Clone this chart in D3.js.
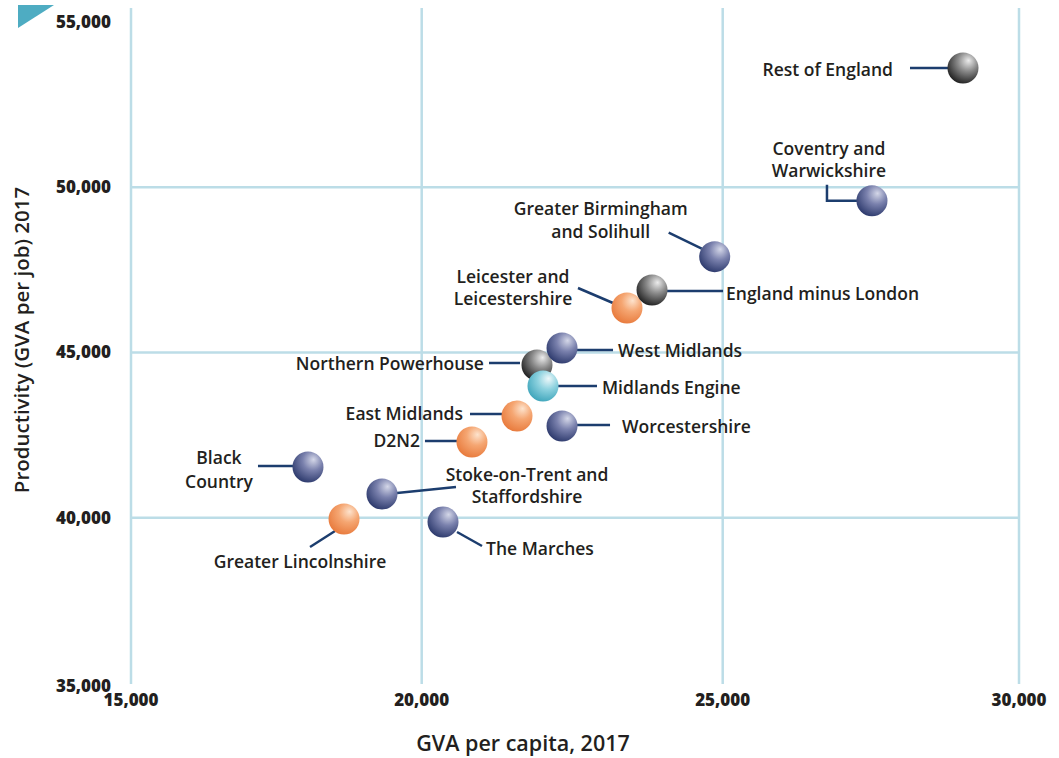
<!DOCTYPE html>
<html>
<head>
<meta charset="utf-8">
<script src="https://cdn.jsdelivr.net/npm/d3@7"></script>
<style>
  body { margin: 0; background: #fff; }
  text { font-family: "Open Sans", Lato, sans-serif; fill: #231f20; }
</style>
</head>
<body>
<script>
// LEP areas, GVA per capita vs GVA per job, 2017
const regions = [
    "Leicester and Leicestershire", "England minus London", "Northern Powerhouse",
    "West Midlands", "Midlands Engine", "Rest of England", "Coventry and Warwickshire",
    "Greater Birmingham and Solihull", "East Midlands", "Worcestershire", "D2N2",
    "Black Country", "Stoke-on-Trent and Staffordshire", "Greater Lincolnshire", "The Marches"
];
const gvaPerCapita = [23410, 23826, 21915, 22331, 22015, 29055, 27519, 24867, 21583, 22331, 20835, 18044, 19317, 18664, 20354];
const gvaPerJob    = [46346, 46891, 44622, 45136, 43986, 53610, 49590, 47900, 43079, 42776, 42292, 41536, 40719, 39962, 39871];
const groups = ["east", "bench", "bench", "west", "engine", "bench", "west", "west", "east", "west", "east", "west", "west", "east", "west"];
const labelLines = [
    ["Leicester and", "Leicestershire"], ["England minus London"], ["Northern Powerhouse"],
    ["West Midlands"], ["Midlands Engine"], ["Rest of England"], ["Coventry and", "Warwickshire"],
    ["Greater Birmingham", "and Solihull"], ["East Midlands"], ["Worcestershire"], ["D2N2"],
    ["Black", "Country"], ["Stoke-on-Trent and", "Staffordshire"], ["Greater Lincolnshire"], ["The Marches"]
];
const xTicks = [15000, 20000, 25000, 30000];
const yTicks = [35000, 40000, 45000, 50000, 55000];

// label placement relative to each bubble
const labelLayout = [
    { anchor: "middle", dx: -114, dy: [-32, -10], leader: [[-49, -20], [-14, -5]] },
    { anchor: "start", dx: 74, dy: [3], leader: [[15, 1], [71, 1]] },
    { anchor: "end", dx: -53, dy: [-2], leader: [[-48, -2], [-17, -2]] },
    { anchor: "start", dx: 56, dy: [2], leader: [[15, 2], [51, 2]] },
    { anchor: "start", dx: 59, dy: [1], leader: [[15, 0], [54, 0]] },
    { anchor: "end", dx: -70, dy: [1], leader: [[-53, 0], [-15, 0]] },
    { anchor: "middle", dx: -43, dy: [-53, -31], leader: [[-45, -16], [-45, 0], [-15, 0]] },
    { anchor: "middle", dx: -114, dy: [-49, -26], leader: [[-46, -24], [-13, -8]] },
    { anchor: "end", dx: -54, dy: [-3], leader: [[-47, -2], [-15, -2]] },
    { anchor: "start", dx: 60, dy: [0], leader: [[15, -1], [48, -1]] },
    { anchor: "end", dx: -52, dy: [-2], leader: [[-47, -1], [-15, -1]] },
    { anchor: "middle", dx: -89, dy: [-10, 14], leader: [[-50, -1], [-15, -1]] },
    { anchor: "middle", dx: 145, dy: [-20, 2], leader: [[15, -1], [74, -7]] },
    { anchor: "middle", dx: -44, dy: [42], leader: [[-34, 28], [-9, 12]] },
    { anchor: "start", dx: 43, dy: [26], leader: [[14, 10], [39, 24]] }
];

const width = 1059, height = 758;

const svg = d3.select("body").append("svg")
    .attr("width", width)
    .attr("height", height);

const x = d3.scaleLinear()
    .domain(xTicks)
    .range([131, 421.7, 722.7, 1019]);
const y = d3.scaleLinear()
    .domain([35000, 55000])
    .range([683, 22]);

const sphereColors = {
    west:   ["#d4d7e8", "#7a81ad", "#2c396c"],
    bench:  ["#ececec", "#8a8a8a", "#1f1f1f"],
    east:   ["#fde3cd", "#f5a672", "#e87a3c"],
    engine: ["#eef8fa", "#8ed2df", "#3ea5bb"]
};

const defs = svg.append("defs");
Object.keys(sphereColors).forEach(k => {
    const g = defs.append("radialGradient")
        .attr("id", "sphere-" + k)
        .attr("cx", "62%").attr("cy", "32%").attr("r", "72%")
        .attr("fx", "68%").attr("fy", "26%");
    g.append("stop").attr("offset", "0%").attr("stop-color", sphereColors[k][0]);
    g.append("stop").attr("offset", "45%").attr("stop-color", sphereColors[k][1]);
    g.append("stop").attr("offset", "100%").attr("stop-color", sphereColors[k][2]);
});

// corner mark
svg.append("path")
    .attr("d", "M18,5L54,5L18,28Z")
    .attr("fill", "#4eacc2");

// grid
const gridColor = "#bcdde7";
svg.append("g").selectAll("line")
    .data(xTicks)
    .join("line")
    .attr("x1", d => x(d)).attr("x2", d => x(d))
    .attr("y1", 8).attr("y2", y(35000) + 1)
    .attr("stroke", gridColor)
    .attr("stroke-width", 2.5);

svg.append("g").selectAll("line")
    .data(yTicks.filter(d => d > 35000 && d < 55000))
    .join("line")
    .attr("x1", x(15000)).attr("x2", x(30000))
    .attr("y1", d => y(d)).attr("y2", d => y(d))
    .attr("stroke", gridColor)
    .attr("stroke-width", 2.5);

// tick labels
const fmt = d3.format(",");
svg.append("g").selectAll("text")
    .data(yTicks)
    .join("text")
    .attr("x", 111)
    .attr("y", d => y(d))
    .attr("dy", d => d === 35000 ? "0.5em" : "0.35em")
    .attr("text-anchor", "end")
    .style("font-size", "17px")
    .style("font-weight", 800)
    .text(fmt);

svg.append("g").selectAll("text")
    .data(xTicks)
    .join("text")
    .attr("x", d => x(d))
    .attr("y", 706)
    .attr("text-anchor", "middle")
    .style("font-size", "17px")
    .style("font-weight", 800)
    .text(fmt);

// axis titles
svg.append("text")
    .attr("x", 523)
    .attr("y", 751)
    .attr("text-anchor", "middle")
    .style("font-size", "21.5px")
    .style("font-weight", 600)
    .text("GVA per capita, 2017");

svg.append("text")
    .attr("transform", "translate(29,340) rotate(-90)")
    .attr("text-anchor", "middle")
    .style("font-size", "20.5px")
    .style("font-weight", 600)
    .text("Productivity (GVA per job) 2017");

const points = regions.map((name, i) => ({
    name: name,
    cx: x(gvaPerCapita[i]),
    cy: y(gvaPerJob[i]),
    group: groups[i],
    lines: labelLines[i],
    layout: labelLayout[i]
}));

// leader lines
const lineGen = d3.line();
svg.append("g").selectAll("path")
    .data(points)
    .join("path")
    .attr("d", d => lineGen(d.layout.leader.map(p => [d.cx + p[0], d.cy + p[1]])))
    .attr("fill", "none")
    .attr("stroke", "#1c3d6e")
    .attr("stroke-width", 2.5);

// bubbles
svg.append("g").selectAll("circle")
    .data(points)
    .join("circle")
    .attr("cx", d => d.cx)
    .attr("cy", d => d.cy)
    .attr("r", 15.5)
    .attr("fill", d => "url(#sphere-" + d.group + ")");

// labels
const labels = svg.append("g").selectAll("text")
    .data(points)
    .join("text")
    .attr("text-anchor", d => d.layout.anchor)
    .style("font-size", "17.5px")
    .style("font-weight", 600);

labels.selectAll("tspan")
    .data(d => d.lines.map((t, j) => ({ t: t, x: d.cx + d.layout.dx, y: d.cy + d.layout.dy[j] })))
    .join("tspan")
    .attr("x", d => d.x)
    .attr("y", d => d.y)
    .attr("dominant-baseline", "central")
    .text(d => d.t);
</script>
</body>
</html>
